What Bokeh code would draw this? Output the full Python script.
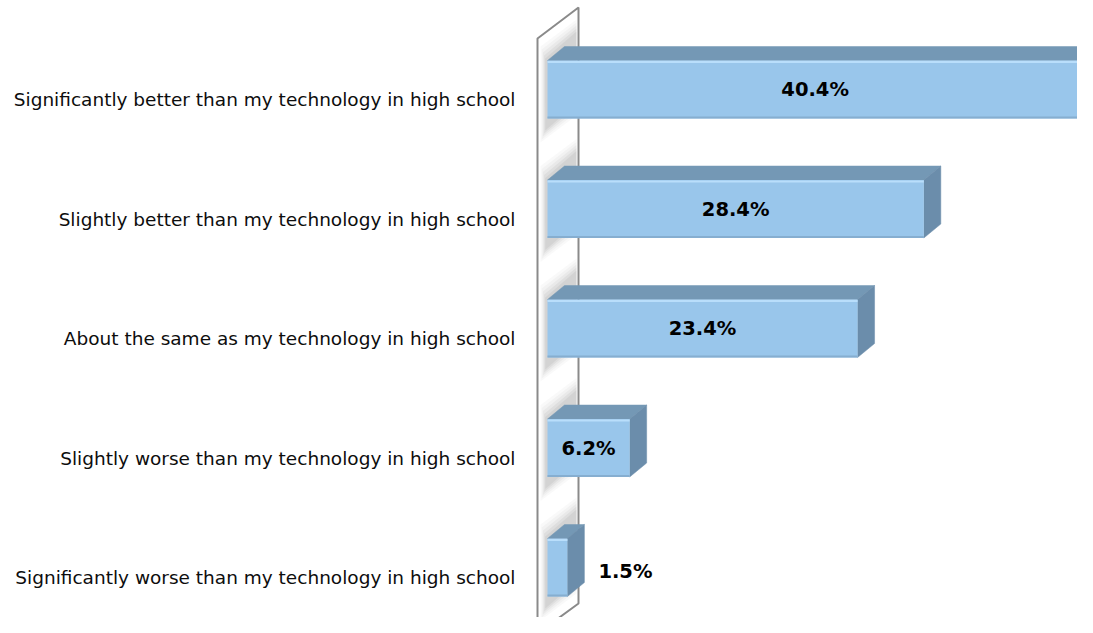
import numpy as np
from bokeh.plotting import figure
from bokeh.models import Range1d, FixedTicker, ColumnDataSource
from bokeh.core.properties import value
from bokeh.embed import file_html
from bokeh.resources import INLINE

# ---- data ----
categories = [
    "Significantly better than my technology in high school",
    "Slightly better than my technology in high school",
    "About the same as my technology in high school",
    "Slightly worse than my technology in high school",
    "Significantly worse than my technology in high school",
]
percent = [40.4, 28.4, 23.4, 6.2, 1.5]

# ---- layout constants (pixel geometry of the reference) ----
W, H = 1077, 617
X0, SX = 547.0, 13.25      # px of x=0, px per percent
V0, SY = 577.0, 119.5      # px of category 0, px per category
FRAME_L = 527.0

def dx(px):
    return px / SX
def px2x(px):
    return (px - X0) / SX
def px2v(py):
    return (V0 - py) / SY
def dv(py):
    return py / SY

n = len(categories)
pos = np.array([n - 1 - i for i in range(n)], dtype=float)
vals = np.array(percent)

p = figure(width=W, height=H, output_backend="svg", toolbar_location=None,
           x_range=Range1d(px2x(FRAME_L), px2x(W)),
           y_range=Range1d(px2v(H), px2v(0)),
           min_border_left=int(FRAME_L), min_border_right=0,
           min_border_top=0, min_border_bottom=0)
p.outline_line_color = None
p.grid.visible = False
p.xaxis.visible = False
p.background_fill_color = "white"
p.border_fill_color = "white"

yax = p.yaxis[0]
yax.ticker = FixedTicker(ticks=list(pos))
yax.major_label_overrides = {float(v): c for v, c in zip(pos, categories)}
yax.major_label_overrides.update({int(v): c for v, c in zip(pos, categories)})
yax.axis_line_color = None
yax.major_tick_line_color = None
yax.minor_tick_line_color = None
yax.major_tick_out = 0
yax.major_label_standoff = 12
yax.major_label_text_font = "DejaVu Sans"
yax.major_label_text_font_size = "18.5px"
yax.major_label_text_color = "#0d0d0d"

# ---- side wall ----
wall_x = [px2x(537), px2x(578), px2x(578), px2x(537)]
wall_y = [px2v(38), px2v(7), px2v(603), px2v(633)]
p.patch(wall_x, wall_y, fill_color="white", line_color="#8a8a8a", line_width=2)

# ---- bar geometry ----
top_off = dv(39)
bot_off = dv(19)
DDX = dx(17)
DDY = dv(14)
tops = pos + top_off
bots = pos - bot_off

# soft shadows on the wall
for k, a in enumerate([0.035, 0.045, 0.055, 0.07, 0.08]):
    s = 3 * k
    xs, ys = [], []
    for t, b in zip(tops, bots):
        tpx = V0 - t * SY
        bpx = V0 - b * SY
        lx, rx = 540 + s * 0.4, 576
        xs.append([px2x(lx), px2x(rx), px2x(rx), px2x(lx)])
        ys.append([px2v(tpx - 14 + s), px2v(tpx - 14 + s - 27),
                   px2v(bpx + 24 - s - 27), px2v(bpx + 24 - s)])
    p.patches(xs, ys, fill_color="#555555", fill_alpha=a, line_color=None)

# top faces
top_xs = [[0, v, v + DDX, DDX] for v in vals]
top_ys = [[t, t, t + DDY, t + DDY] for t in tops]
p.patches(top_xs, top_ys, fill_color="#7498b5", line_color="#7498b5", line_width=0.5)

# side faces
side_xs = [[v, v + DDX, v + DDX, v] for v in vals]
side_ys = [[b, b + DDY, t + DDY, t] for t, b in zip(tops, bots)]
p.patches(side_xs, side_ys, fill_color="#6b8dab", line_color="#6b8dab", line_width=0.5)

# front faces
src = ColumnDataSource(dict(left=np.zeros(n), right=vals, top=tops, bottom=bots))
p.quad(left="left", right="right", top="top", bottom="bottom", source=src,
       fill_color="#99c6eb", line_color=None)
p.segment(x0=np.zeros(n), y0=tops - dv(1.5), x1=vals, y1=tops - dv(1.5),
          line_color="#b9defb", line_width=2)
p.segment(x0=np.zeros(n), y0=bots + dv(1), x1=vals, y1=bots + dv(1),
          line_color="#86aed0", line_width=2)

# data labels
labels = [f"{v:.1f}%" for v in vals]
inside = vals >= 5
lab_x = np.where(inside, vals / 2, vals + DDX + dx(14))
lab_y = (tops + bots) / 2 + np.where(inside, 0, -dv(4))
lsrc = ColumnDataSource(dict(x=lab_x, y=lab_y, t=labels,
                             a=["center" if i else "left" for i in inside]))
p.text(x="x", y="y", text="t", text_align="a", text_baseline="middle",
       text_font=value("DejaVu Sans"), text_font_style="bold",
       text_font_size="19.5px", text_color="#000000", source=lsrc)

open("out.html", "w").write(file_html(p, INLINE))
